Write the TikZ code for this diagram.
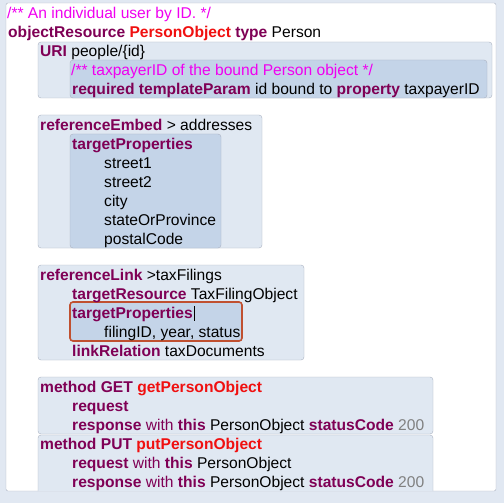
\documentclass[tikz,border=0pt]{standalone}
\usepackage{fontspec}
\setmainfont{Liberation Sans}
\usepackage{xcolor}
\usepackage{tikz}
\usetikzlibrary{positioning}

\definecolor{pagebg}{RGB}{225,232,242}
\definecolor{boxfill}{RGB}{224,232,242}
\definecolor{innerfill}{RGB}{196,212,232}
\definecolor{boxline}{RGB}{170,178,194}
\definecolor{kwcolor}{RGB}{127,0,85}
\definecolor{namecolor}{RGB}{240,16,16}
\definecolor{commentcolor}{RGB}{240,0,240}
\definecolor{numcolor}{RGB}{128,128,128}
\definecolor{focusline}{RGB}{192,80,48}

\newcommand{\kw}[1]{\textcolor{kwcolor}{\bfseries #1}}
\newcommand{\kwl}[1]{\textcolor{kwcolor}{#1}}
\newcommand{\nm}[1]{\textcolor{namecolor}{\bfseries #1}}
\newcommand{\cm}[1]{\textcolor{commentcolor}{#1}}
\newcommand{\nb}[1]{\textcolor{numcolor}{#1}}

\begin{document}
\begin{tikzpicture}[
    x=1pt, y=-1pt,
    font=\fontsize{15.6}{19}\selectfont,
    code line/.style={anchor=base west, inner sep=0pt},
    outer box/.style={draw=boxline, fill=boxfill, rounded corners=3pt},
    inner box/.style={draw=boxline, fill=innerfill, rounded corners=3pt},
    focus box/.style={draw=focusline, fill=innerfill, line width=1.6pt, rounded corners=3pt},
    panel/.style={draw=boxline, fill=white, rounded corners=2pt}
]

    % Background and editor panel
    \fill[pagebg] (0,0) rectangle (504,503);
    \useasboundingbox (0,0) rectangle (504,503);
    \draw[panel] (6,3) rectangle (496,491);

    % --- BOXES ---
    \begin{scope}
        \clip[rounded corners=2pt] (6,3) rectangle (496,491);
        \draw[outer box] (38,42) rectangle (492,98);
        \draw[inner box] (70,60) rectangle (487,98);

        \draw[outer box] (38,115) rectangle (262,248);
        \draw[inner box] (70,134) rectangle (221,248);

        \draw[outer box] (38,265) rectangle (304,360);
        \draw[focus box] (70,302) rectangle (242,341);

        \draw[outer box] (38,377) rectangle (433,434);
        \draw[outer box] (38,435) rectangle (433,500);
    \end{scope}

    % --- OBJECT RESOURCE ---
    \node[code line] (doc) at (7,18.7) {\cm{/** An individual user by ID. */}};
    \node[code line] (objres) at (8,37.7) {\kw{objectResource} \nm{PersonObject} \kw{type} Person};
    \node[code line] (uri) at (40,57) {\kw{URI} people/\{id\}};
    \node[code line] (paramdoc) at (71,76) {\cm{/** taxpayerID of the bound Person object */}};
    \node[code line] (param) at (72,95) {\kw{required templateParam} id bound to \kw{property} taxpayerID};

    % --- REFERENCE EMBED ---
    \node[code line] (embed) at (40,130.5) {\kw{referenceEmbed} > addresses};
    \node[code line] (embprops) at (72,149.5) {\kw{targetProperties}};
    \foreach \p [count=\i] in {street1, street2, city, stateOrProvince, postalCode}
        \node[code line] (prop\i) at (104,{149.5+19*\i}) {\p};

    % --- REFERENCE LINK ---
    \node[code line] (link) at (40,280.5) {\kw{referenceLink} >taxFilings};
    \node[code line] (linkres) at (72,299.5) {\kw{targetResource} TaxFilingObject};
    \node[code line] (linkprops) at (72,318.5) {\kw{targetProperties}};
    \node[code line] (linkfields) at (104,337.5) {filingID, year, status};
    \node[code line] (linkrel) at (72,356.5) {\kw{linkRelation} taxDocuments};

    % Text cursor
    \draw[black, line width=1.3pt] ([xshift=1.5pt,yshift=-2pt]linkprops.base east) -- ++(0,-15);

    % --- METHODS ---
    \node[code line] (get) at (40,392.5) {\kw{method GET} \nm{getPersonObject}};
    \node[code line] (getreq) at (72,411.5) {\kw{request}};
    \node[code line] (getresp) at (72,430.5) {\kw{response} \kwl{with} \kw{this} PersonObject \kw{statusCode} \nb{200}};

    \node[code line] (put) at (40,449.5) {\kw{method PUT} \nm{putPersonObject}};
    \node[code line] (putreq) at (72,468.5) {\kw{request} \kwl{with} \kw{this} PersonObject};
    \node[code line] (putresp) at (72,487.5) {\kw{response} \kwl{with} \kw{this} PersonObject \kw{statusCode} \nb{200}};

\end{tikzpicture}
\end{document}
